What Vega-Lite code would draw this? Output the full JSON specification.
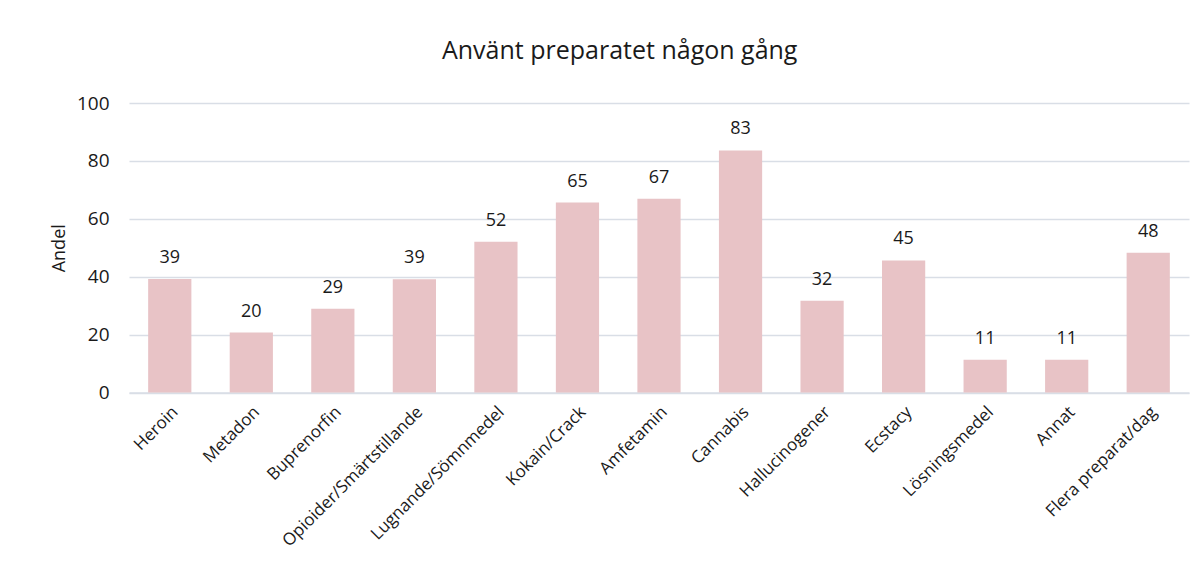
{
  "$schema": "https://vega.github.io/schema/vega-lite/v6.json",
  "width": 1060,
  "height": 289.5,
  "autosize": {"type": "none"},
  "padding": {"left": 129, "top": 103, "right": 15, "bottom": 188.5},
  "background": "white",
  "title": {
    "text": "Använt preparatet någon gång",
    "anchor": "middle",
    "frame": "bounds",
    "font": "Open Sans",
    "fontSize": 25,
    "fontWeight": "normal",
    "color": "#1a1a1a",
    "offset": 30
  },
  "data": {
    "values": [
      {"preparat": "Heroin", "andel": 39.2, "label": 39},
      {"preparat": "Metadon", "andel": 20.7, "label": 20},
      {"preparat": "Buprenorfin", "andel": 28.9, "label": 29},
      {"preparat": "Opioider/Smärtstillande", "andel": 39.1, "label": 39},
      {"preparat": "Lugnande/Sömnmedel", "andel": 52.1, "label": 52},
      {"preparat": "Kokain/Crack", "andel": 65.6, "label": 65},
      {"preparat": "Amfetamin", "andel": 66.9, "label": 67},
      {"preparat": "Cannabis", "andel": 83.6, "label": 83},
      {"preparat": "Hallucinogener", "andel": 31.7, "label": 32},
      {"preparat": "Ecstacy", "andel": 45.6, "label": 45},
      {"preparat": "Lösningsmedel", "andel": 11.3, "label": 11},
      {"preparat": "Annat", "andel": 11.3, "label": 11},
      {"preparat": "Flera preparat/dag", "andel": 48.3, "label": 48}
    ]
  },
  "encoding": {
    "x": {
      "field": "preparat",
      "type": "nominal",
      "sort": null,
      "scale": {"paddingInner": 0.47, "paddingOuter": 0.235},
      "axis": {
        "title": null,
        "labelAngle": -45,
        "labelFont": "Open Sans",
        "labelFontSize": 17,
        "labelLimit": 0,
        "labelColor": "#1a1a1a",
        "labelPadding": 11,
        "ticks": false,
        "domainColor": "#D9DEE6",
        "domainWidth": 1.5,
        "grid": false
      }
    },
    "y": {
      "field": "andel",
      "type": "quantitative",
      "scale": {"domain": [0, 100], "nice": false},
      "axis": {
        "title": "Andel",
        "titleFont": "Open Sans",
        "titleFontSize": 18,
        "titleFontWeight": "normal",
        "titleColor": "#1a1a1a",
        "titlePadding": 8,
        "values": [0, 20, 40, 60, 80, 100],
        "labelFont": "Open Sans",
        "labelFontSize": 19,
        "labelColor": "#1a1a1a",
        "labelPadding": 20,
        "ticks": false,
        "domain": false,
        "gridColor": "#D9DEE6",
        "gridWidth": 1.5
      }
    }
  },
  "layer": [
    {"mark": {"type": "bar", "color": "#E8C3C6"}},
    {
      "mark": {
        "type": "text",
        "baseline": "alphabetic",
        "dy": -16,
        "font": "Open Sans",
        "fontSize": 18,
        "color": "#1a1a1a"
      },
      "encoding": {"text": {"field": "label", "type": "quantitative"}}
    }
  ],
  "config": {"view": {"stroke": null}}
}
